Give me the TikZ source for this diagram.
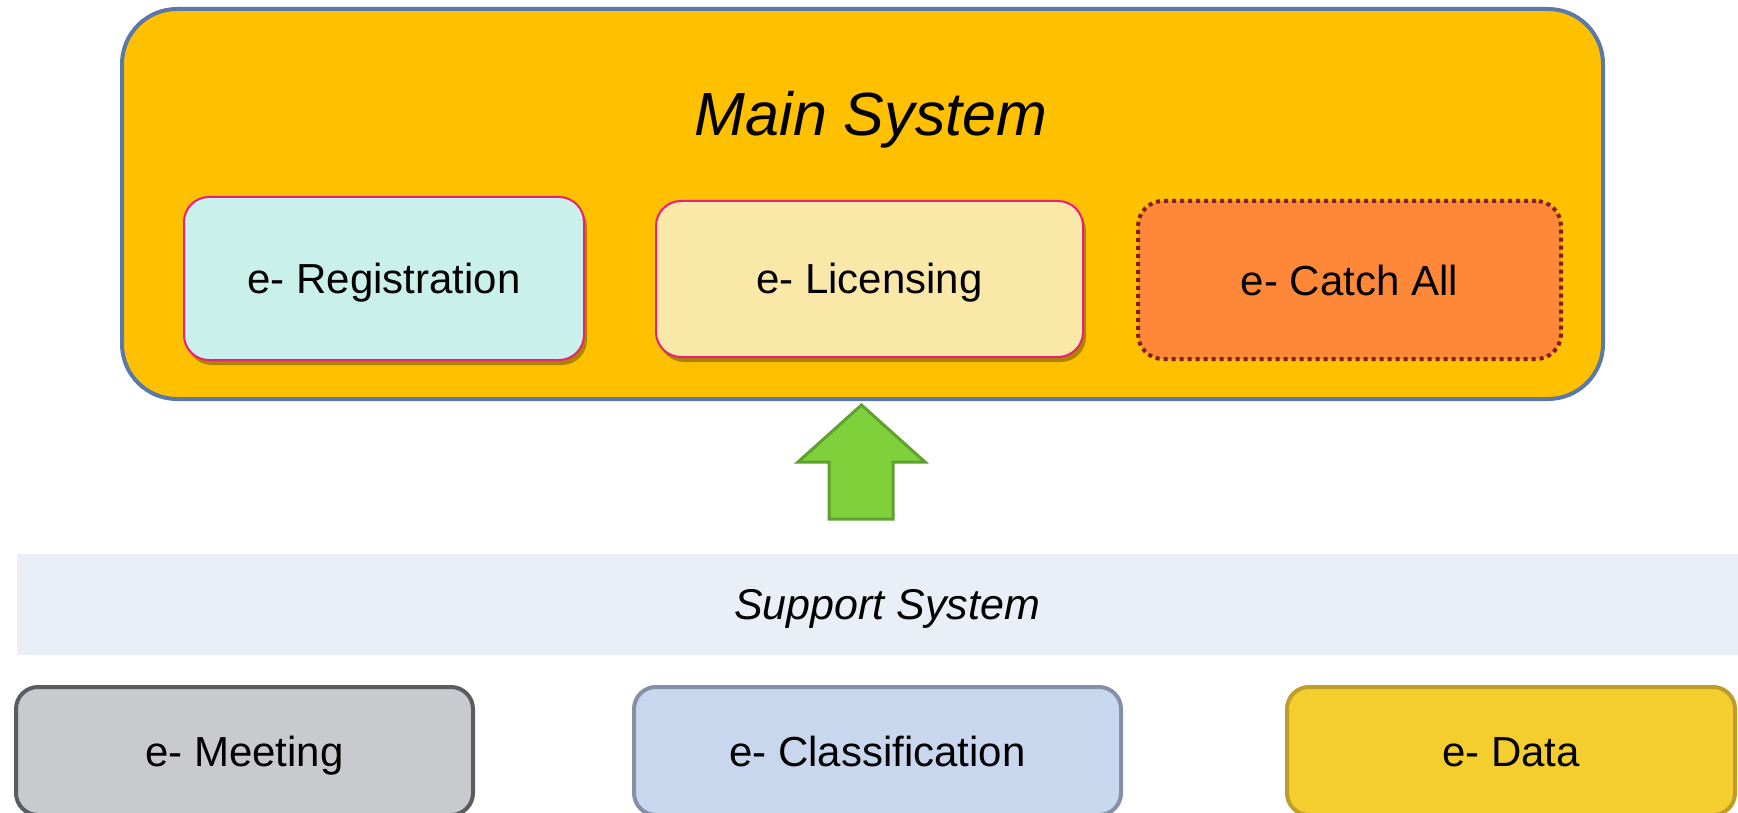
\documentclass[tikz,border=0pt]{standalone}
\usepackage{fontspec}
\setmainfont{Liberation Sans}
\usetikzlibrary{shadows}
\definecolor{mainfill}{HTML}{FFC000}
\definecolor{mainborder}{HTML}{5A78A8}
\definecolor{regfill}{HTML}{C9F0EB}
\definecolor{licfill}{HTML}{FAE8A8}
\definecolor{pinkborder}{HTML}{E8207A}
\definecolor{catchfill}{HTML}{FF8838}
\definecolor{catchborder}{HTML}{7F2020}
\definecolor{bandfill}{HTML}{EAEEF6}
\definecolor{meetfill}{HTML}{C9CACE}
\definecolor{meetborder}{HTML}{5A5C62}
\definecolor{classfill}{HTML}{C8D6EE}
\definecolor{classborder}{HTML}{8590A8}
\definecolor{datafill}{HTML}{F4CE2E}
\definecolor{databorder}{HTML}{BF9D2A}
\definecolor{arrowfill}{HTML}{7FD13B}
\definecolor{arrowborder}{HTML}{60A02E}
\definecolor{shadowcol}{HTML}{6E5200}
\tikzset{
  boxtext/.style={font=\fontsize{42}{50}\selectfont, text height=30pt, text depth=0pt},
  innerbox/.style={draw=pinkborder, line width=2pt, rounded corners=25pt, boxtext,
    drop shadow={shadow xshift=3pt, shadow yshift=-5pt, fill=shadowcol, opacity=0.55}},
  lowerbox/.style={draw, line width=4pt, rounded corners=22pt, boxtext},
}
\begin{document}
\begin{tikzpicture}[x=1pt,y=-1pt]
\useasboundingbox (0,0) rectangle (1738,813);
\clip (0,0) rectangle (1738,813);
% main system
\node[draw=mainborder, fill=mainfill, line width=4pt, rounded corners=55pt,
  minimum width=1481pt, minimum height=390pt, inner sep=0pt] (main) at (862.5,204) {};
\node[font=\fontsize{61}{70}\selectfont\itshape, text height=43pt, text depth=0pt] (maintitle) at (871,114) {Main System};
\node[innerbox, fill=regfill, minimum width=400pt, minimum height=163pt] (reg) at (384,278.5) {e- Registration};
\node[innerbox, fill=licfill, minimum width=427pt, minimum height=156pt] (lic) at (869.5,279) {e- Licensing};
\node[draw=catchborder, fill=catchfill, line width=4pt, dash pattern=on 4pt off 4pt,
  rounded corners=25pt, boxtext, minimum width=423pt, minimum height=158pt] (catch) at (1349.5,280) {e- Catch All};
% arrow
\coordinate (tip) at (861.5,405);
\draw[fill=arrowfill, draw=arrowborder, line width=3pt, line join=miter]
  (tip) -- ++(63.5,57) -- ++(-32,0) -- ++(0,57) -- ++(-64,0) -- ++(0,-57) -- ++(-31,0) -- cycle;
% support band
\node[fill=bandfill, minimum width=1721pt, minimum height=101pt, inner sep=0pt] (band) at (877.5,604.5) {};
\node[font=\fontsize{43}{50}\selectfont\itshape, text height=31pt, text depth=0pt] (bandtext) at (887,604) {Support System};
% lower boxes
\node[lowerbox, draw=meetborder, fill=meetfill, minimum width=457pt, minimum height=128pt] (meet) at (244.5,751) {e- Meeting};
\node[lowerbox, draw=classborder, fill=classfill, minimum width=487pt, minimum height=128pt] (class) at (877.5,751) {e- Classification};
\node[lowerbox, draw=databorder, fill=datafill, minimum width=448pt, minimum height=128pt] (data) at (1511,751) {e- Data};
\end{tikzpicture}
\end{document}
